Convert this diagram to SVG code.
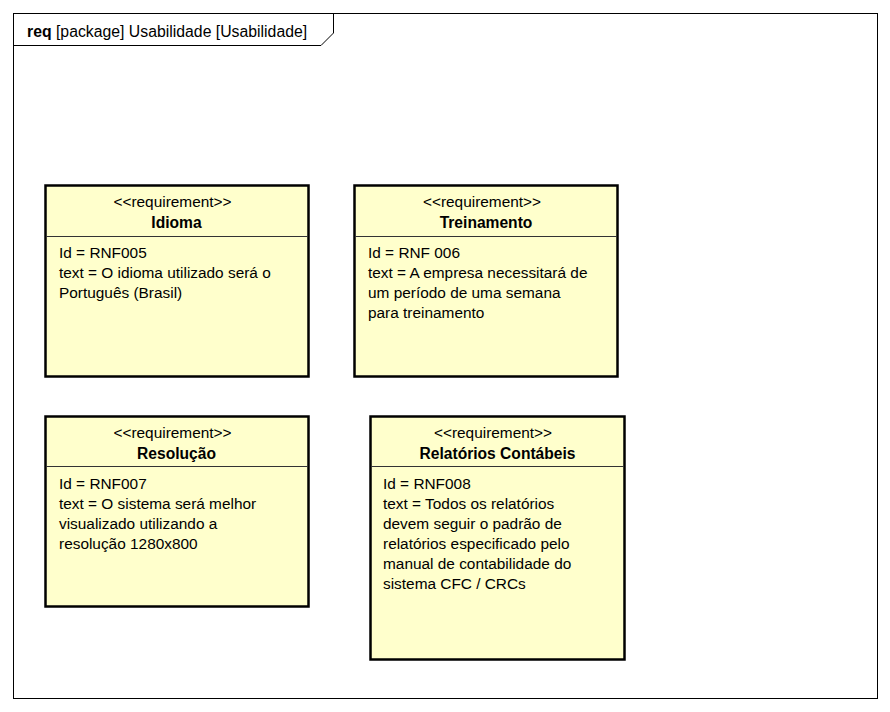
<svg xmlns="http://www.w3.org/2000/svg" width="890" height="712" viewBox="0 0 890 712">
<style>
text{font-family:"Liberation Sans",Arial,sans-serif;font-size:15.4px;fill:#000}
.st{text-anchor:middle}
.nm{text-anchor:middle;font-weight:bold;font-size:15.6px}
.ttl{font-size:15.8px}
.box{fill:#FFFFCC;stroke:#000;stroke-width:2.5}
.div{stroke:#333;stroke-width:1}
.frame{fill:none;stroke:#000;stroke-width:1}
</style>
<rect width="890" height="712" fill="#fff"/>
<g id="frame">
<rect class="frame" x="13.5" y="13.5" width="864" height="685"/>
<path class="frame" d="M13.5 45.5 H321 L333.5 33 V13.5"/>
<text class="ttl" x="27" y="37"><tspan font-weight="bold">req</tspan> [package] Usabilidade [Usabilidade]</text>
</g>
<g id="connectors"></g>
<g id="idioma">
<rect class="box" x="45.5" y="185.5" width="263" height="191"/>
<line class="div" x1="46" y1="236.5" x2="308" y2="236.5"/>
<text class="st" x="172.5" y="207">&lt;&lt;requirement&gt;&gt;</text>
<text class="nm" x="176.5" y="228">Idioma</text>
<text x="59" y="258">Id = RNF005</text>
<text x="59" y="278">text = O idioma utilizado será o</text>
<text x="59" y="298">Português (Brasil)</text>
</g>
<g id="treinamento">
<rect class="box" x="354.5" y="185.5" width="263" height="191"/>
<line class="div" x1="355" y1="236.5" x2="617" y2="236.5"/>
<text class="st" x="482" y="207">&lt;&lt;requirement&gt;&gt;</text>
<text class="nm" x="486" y="228">Treinamento</text>
<text x="368" y="258">Id = RNF 006</text>
<text x="368" y="278">text = A empresa necessitará de</text>
<text x="368" y="298">um período de uma semana</text>
<text x="368" y="318">para treinamento</text>
</g>
<g id="resolucao">
<rect class="box" x="45.5" y="416.5" width="263" height="190"/>
<line class="div" x1="46" y1="466.5" x2="308" y2="466.5"/>
<text class="st" x="172.5" y="438">&lt;&lt;requirement&gt;&gt;</text>
<text class="nm" x="176.5" y="459">Resolução</text>
<text x="59" y="489">Id = RNF007</text>
<text x="59" y="509">text = O sistema será melhor</text>
<text x="59" y="529">visualizado utilizando a</text>
<text x="59" y="549">resolução 1280x800</text>
</g>
<g id="relatorios">
<rect class="box" x="370.5" y="416.5" width="254" height="243"/>
<line class="div" x1="371" y1="466.5" x2="624" y2="466.5"/>
<text class="st" x="493" y="438">&lt;&lt;requirement&gt;&gt;</text>
<text class="nm" x="497.5" y="459">Relatórios Contábeis</text>
<text x="383" y="489">Id = RNF008</text>
<text x="383" y="509">text = Todos os relatórios</text>
<text x="383" y="529">devem seguir o padrão de</text>
<text x="383" y="549">relatórios especificado pelo</text>
<text x="383" y="569">manual de contabilidade do</text>
<text x="383" y="589">sistema CFC / CRCs</text>
</g>
</svg>
